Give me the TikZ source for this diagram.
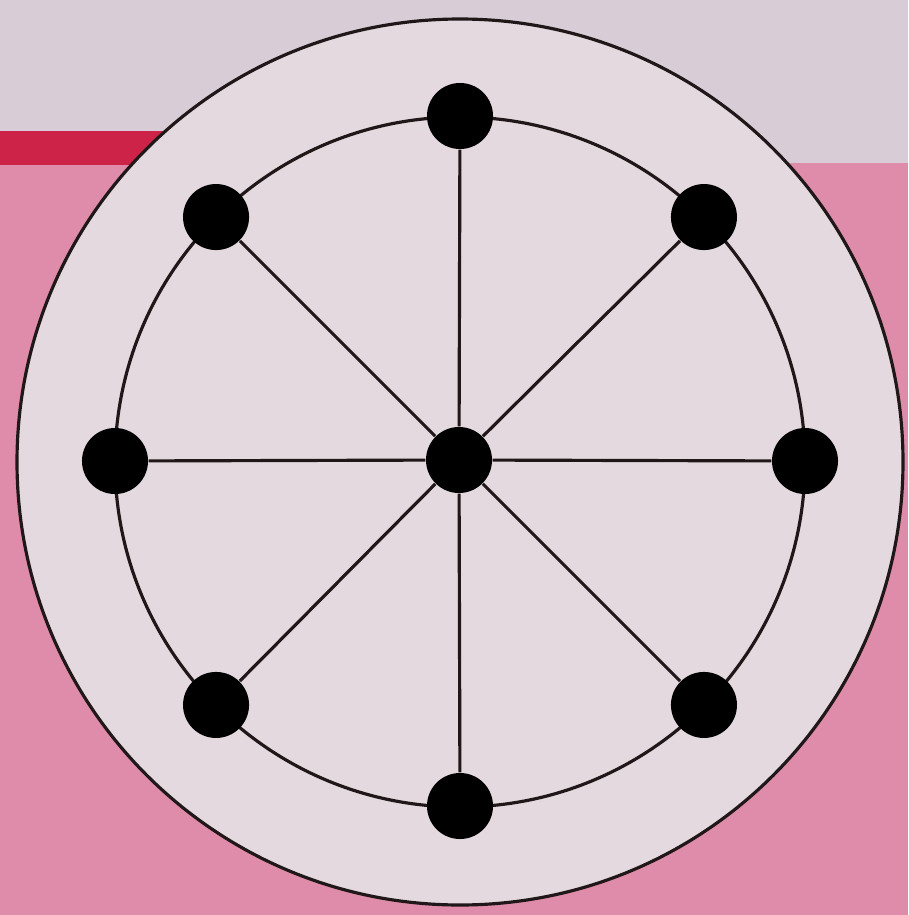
\documentclass[tikz,border=0pt]{standalone}
\usepackage{tikz}

\definecolor{topband}{HTML}{D8CDD6}
\definecolor{pinkback}{HTML}{DF8CAA}
\definecolor{redbar}{HTML}{CE2348}
\definecolor{discfill}{HTML}{E4D9DF}
\definecolor{inkline}{HTML}{201818}

\begin{document}
\begin{tikzpicture}[x=0.01cm,y=-0.01cm,every node/.style={font=\small},
  dot/.style={circle,fill=black,inner sep=0pt,minimum size=0.66cm},
  ring/.style={draw=inkline,line width=0.9pt}]
  % background: grey band, pink paper, red bar
  \fill[topband] (0,0) rectangle (908,915);
  \fill[pinkback] (0,163) rectangle (908,915);
  \fill[redbar] (0,131) rectangle (220,165);
  % disc and rim
  \coordinate (c) at (460,462);
  \filldraw[ring,fill=discfill] (c) circle (443);
  \draw[ring] (c) circle (345);
  \node[dot] (p) at (459,460) {};
  \foreach \i in {0,...,7}{
    \node[dot] (p\i) at ({460+345*cos(\i*45)},{461+345*sin(\i*45)}) {};
    \draw[ring] (p) -- (p\i);
  }
\end{tikzpicture}
\end{document}
